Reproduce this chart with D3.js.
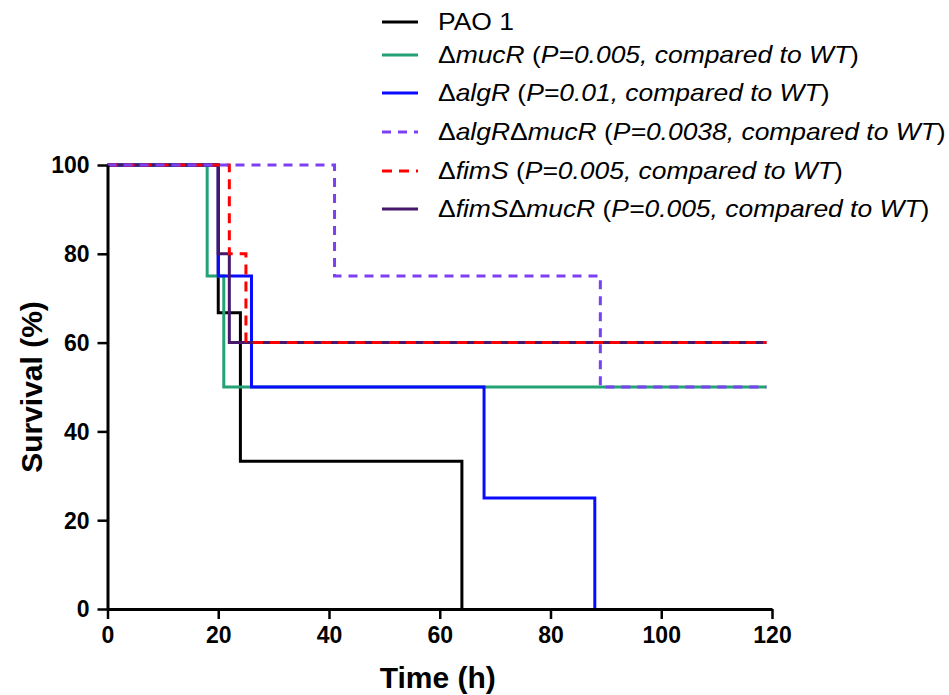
<!DOCTYPE html>
<html>
<head>
<meta charset="utf-8">
<script src="https://cdn.jsdelivr.net/npm/d3@7"></script>
<style>
  body { margin: 0; background: #fff; }
  svg { display: block; font-family: "Liberation Sans", Arial, sans-serif; }
  .axis path, .axis line { stroke: #000; }
  .axis text { font-size: 23px; font-weight: bold; fill: #000; }
</style>
</head>
<body>
<script>
// survival data (time in h, survival in %)
var seriesNames = ["PAO 1", "mucR", "algR", "algRmucR", "fimS", "fimSmucR"];
var pao1Time = [0, 20, 24, 64];
var pao1Surv = [100, 66.7, 33.3, 0];
var mucRTime = [0, 18, 21, 119];
var mucRSurv = [100, 75, 50, 50];
var algRTime = [0, 20, 26, 68, 88];
var algRSurv = [100, 75, 50, 25, 0];
var algRmucRTime = [0, 41, 89, 119];
var algRmucRSurv = [100, 75, 50, 50];
var fimSTime = [0, 22, 25, 119];
var fimSSurv = [100, 80, 60, 60];
var fimSmucRTime = [0, 20, 22, 119];
var fimSmucRSurv = [100, 80, 60, 60];
var pValues = [null, "0.005", "0.01", "0.0038", "0.005", "0.005"];
var xTicks = [0, 20, 40, 60, 80, 100, 120];
var yTicks = [0, 20, 40, 60, 80, 100];

// set the dimensions of the plot area
var width = 949, height = 695;
var plot = { left: 107.5, right: 772, top: 165, bottom: 609 };

var x = d3.scaleLinear().domain([0, 120]).range([plot.left, plot.right]);
var y = d3.scaleLinear().domain([0, 100]).range([plot.bottom, plot.top]);

var svg = d3.select("body").append("svg")
  .attr("width", width)
  .attr("height", height);

// line styles for each strain
var styles = [
  { color: "#000000", dash: null },
  { color: "#23a275", dash: null },
  { color: "#0a0aff", dash: null },
  { color: "#7a40f2", dash: "9,7" },
  { color: "#ff0000", dash: "10,7" },
  { color: "#45186b", dash: null }
];

var dataset = [
  { t: pao1Time, s: pao1Surv },
  { t: mucRTime, s: mucRSurv },
  { t: algRTime, s: algRSurv },
  { t: algRmucRTime, s: algRmucRSurv },
  { t: fimSTime, s: fimSSurv },
  { t: fimSmucRTime, s: fimSmucRSurv }
].map(function (d, i) {
  return {
    name: seriesNames[i],
    style: styles[i],
    points: d.t.map(function (t, j) { return { x: t, y: d.s[j] }; })
  };
});

var valueline = d3.line()
  .curve(d3.curveStepAfter)
  .x(function (d) { return x(d.x); })
  .y(function (d) { return y(d.y); });

// draw order as in the picture (solid under dashed)
var drawOrder = [0, 1, 2, 5, 4, 3];
svg.append("g")
  .selectAll("path")
  .data(drawOrder.map(function (i) { return dataset[i]; }))
  .enter()
  .append("path")
  .attr("fill", "none")
  .attr("stroke", function (d) { return d.style.color; })
  .attr("stroke-width", 3)
  .attr("stroke-dasharray", function (d) { return d.style.dash; })
  .attr("d", function (d) { return valueline(d.points); });

// x axis
var xAxis = svg.append("g")
  .attr("class", "axis")
  .attr("transform", "translate(0," + plot.bottom + ")")
  .call(d3.axisBottom(x).tickValues(xTicks).tickSize(10).tickSizeOuter(0).tickPadding(8));

// y axis
var yAxis = svg.append("g")
  .attr("class", "axis")
  .attr("transform", "translate(" + plot.left + ",0)")
  .call(d3.axisLeft(y).tickValues(yTicks).tickSize(10).tickSizeOuter(0).tickPadding(8));

svg.selectAll(".axis path").attr("stroke-width", 3);
svg.selectAll(".axis line").attr("stroke-width", 2.5);
yAxis.selectAll("text").attr("dy", "0.34em");

// axis titles
svg.append("text")
  .attr("x", (plot.left + plot.right) / 2 - 2)
  .attr("y", 688)
  .attr("text-anchor", "middle")
  .style("font-size", "30px")
  .style("font-weight", "bold")
  .text("Time (h)");

svg.append("text")
  .attr("transform", "translate(42," + (plot.top + plot.bottom) / 2 + ") rotate(-90)")
  .attr("text-anchor", "middle")
  .style("font-size", "30px")
  .style("font-weight", "bold")
  .text("Survival (%)");

// legend
var legendY = [22, 55, 93, 132, 171, 209];
var legend = svg.append("g");

dataset.forEach(function (d, i) {
  var row = legend.append("g");
  row.append("line")
    .attr("x1", 382).attr("x2", 418)
    .attr("y1", legendY[i]).attr("y2", legendY[i])
    .attr("stroke", d.style.color)
    .attr("stroke-width", 3)
    .attr("stroke-dasharray", d.style.dash);

  var label = row.append("text")
    .attr("transform", "translate(438," + (legendY[i] + 8) + ") scale(1.15,1)")
    .style("font-size", "23px");

  if (pValues[i] === null) {
    label.append("tspan").text(d.name);
    return;
  }
  // names like algRmucR are written with one delta per gene
  var genes = d.name.match(/[a-z]+[A-Z]/g);
  genes.forEach(function (g) {
    label.append("tspan").text("\u0394");
    label.append("tspan").style("font-style", "italic").text(g);
  });
  label.append("tspan").text(" (");
  label.append("tspan").style("font-style", "italic")
    .text("P=" + pValues[i] + ", compared to WT");
  label.append("tspan").text(")");
});
</script>
</body>
</html>
